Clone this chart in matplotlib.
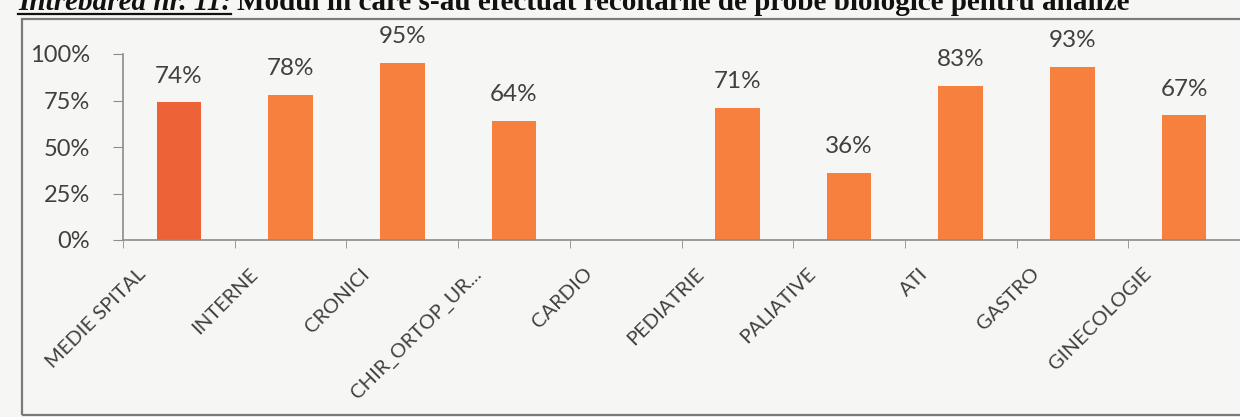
import matplotlib.pyplot as plt
import matplotlib.transforms as mtransforms
from matplotlib.patches import Rectangle
from matplotlib.lines import Line2D

# sectii si procentele raportate
sectii = ['MEDIE SPITAL', 'INTERNE', 'CRONICI', 'CHIR_ORTOP_UR...', 'CARDIO',
          'PEDIATRIE', 'PALIATIVE', 'ATI', 'GASTRO', 'GINECOLOGIE']
procente = [74, 78, 95, 64, None, 71, 36, 83, 93, 67]
y_ticks = [0, 25, 50, 75, 100]

culoare_medie = '#ee6238'
culoare_sectii = '#f7803f'
gri_text = '#404040'
gri_ax = '#8c8c8c'
fundal = '#f6f6f4'

fig = plt.figure(figsize=(12.4, 4.17), dpi=100, facecolor=fundal)

# chenarul din jurul graficului
fig.add_artist(Rectangle((22 / 1240, 2 / 417), 1.1, 396 / 417,
                         transform=fig.transFigure, fill=False,
                         edgecolor='#7a7a7a', lw=1.6))

# titlul intrebarii (taiat sus)
t1 = fig.text(18 / 1240, 1 - 10 / 417, 'Întrebarea nr. 11:', family='Liberation Serif',
              fontsize=21, fontweight='bold', style='italic', va='baseline', color='#111111')
fig.canvas.draw()
bb = t1.get_window_extent()
fig.add_artist(Line2D([bb.x0 / 1240, bb.x1 / 1240], [1 - 13.5 / 417] * 2,
                      transform=fig.transFigure, color='#111111', lw=1.6))
fig.text(bb.x1 / 1240 + 6 / 1240, 1 - 10 / 417,
         'Modul în care s-au efectuat recoltările de probe biologice pentru analize',
         family='Liberation Serif', fontsize=21, fontweight='bold',
         va='baseline', color='#111111')

ax = fig.add_axes([123 / 1240, 177 / 417, 1117 / 1240, 186 / 417])
ax.set_facecolor('none')

x = list(range(len(sectii)))
for i, v in enumerate(procente):
    if v is None:
        continue
    c = culoare_medie if i == 0 else culoare_sectii
    ax.bar(i, v / 100, width=0.4, color=c, zorder=2)
    ax.text(i, v / 100 + 0.085, f'{v}%', ha='center', va='bottom',
            fontsize=17.5, family='Lato', color=gri_text)

ax.set_xlim(-0.5, len(sectii) - 0.5)
ax.set_ylim(0, 1)
ax.set_yticks([t / 100 for t in y_ticks])
ax.set_yticklabels([f'{t}%' for t in y_ticks], family='Lato', fontsize=17, color=gri_text)

# etichetele sectiilor, rotite si mutate putin spre stanga
ax.set_xticks(x)
ax.set_xticklabels([])
shift = mtransforms.ScaledTranslation(-0.42, -0.25, fig.dpi_scale_trans)
for i, nume in enumerate(sectii):
    ax.text(i, 0, nume, rotation=45, ha='right', va='top', rotation_mode='anchor',
            family='Lato', fontsize=14.5, color=gri_text,
            transform=ax.get_xaxis_transform() + shift)
ax.set_xticks([i - 0.5 for i in range(len(sectii) + 1)], minor=True)
ax.tick_params(axis='x', which='major', length=0)
ax.tick_params(axis='x', which='minor', length=6, color=gri_ax, direction='out')
ax.tick_params(axis='y', length=7, color=gri_ax, direction='out', pad=17)

for s in ['top', 'right']:
    ax.spines[s].set_visible(False)
for s in ['left', 'bottom']:
    ax.spines[s].set_color(gri_ax)
    ax.spines[s].set_linewidth(1.2)

fig.savefig('out.png', dpi=100, facecolor=fundal)
